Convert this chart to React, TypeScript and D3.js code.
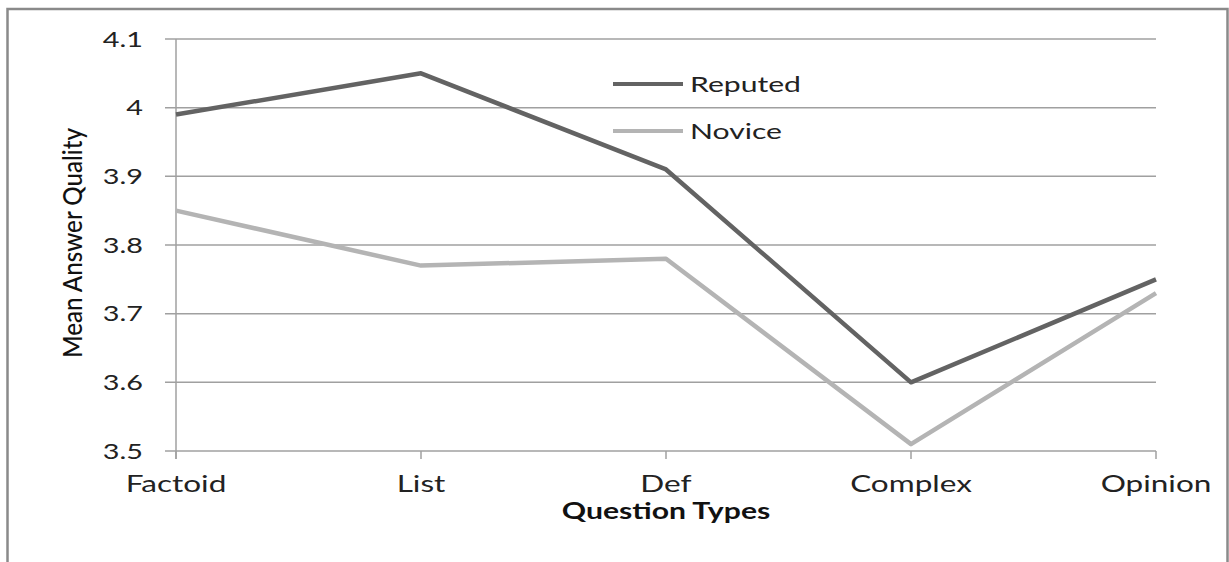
import React from 'react';
import * as d3 from 'd3';

const categories = ["Factoid", "List", "Def", "Complex", "Opinion"];
const reputed = [3.99, 4.05, 3.91, 3.60, 3.75];
const novice = [3.85, 3.77, 3.78, 3.51, 3.73];
const yTicks = [3.5, 3.6, 3.7, 3.8, 3.9, 4.0, 4.1];

const SERIES = [
    { name: "Reputed", values: reputed, color: "#636363" },
    { name: "Novice", values: novice, color: "#b4b4b4" }
];

const W = 1229;
const H = 562;
const SX = 1.37; // the picture is stretched sideways, so text is too
const FONT = "Lato, 'Open Sans', sans-serif";

const App: React.FC = () => {
    const plot = { left: 176, right: 1156, top: 39, bottom: 451 };

    const x = d3.scalePoint<string>()
        .domain(categories)
        .range([plot.left, plot.right]);

    const y = d3.scaleLinear()
        .domain([3.5, 4.1])
        .range([plot.bottom, plot.top]);

    const line = d3.line<number>()
        .x((_, i) => x(categories[i]) as number)
        .y(d => y(d));

    const label = (tx: number, ty: number) => `translate(${tx},${ty}) scale(${SX},1)`;

    return (
        <svg width={W} height={H} style={{ position: 'absolute', left: 0, top: 0, background: '#fff' }}>
            <rect x={7.5} y={9} width={1220} height={H + 10} fill="none" stroke="#8a8a8a" strokeWidth={2.5} />

            {/* grid + y ticks */}
            {yTicks.map(t => (
                <g key={t}>
                    <line x1={plot.left - 11} x2={plot.right} y1={y(t)} y2={y(t)} stroke="#a0a0a0" strokeWidth={1.5} />
                    <text
                        transform={label(143, y(t) + 7.5)}
                        textAnchor="end"
                        fontFamily={FONT}
                        fontSize={21}
                        fill="#222"
                    >{d3.format("")(t)}</text>
                </g>
            ))}

            {/* y axis line */}
            <line x1={plot.left} x2={plot.left} y1={plot.top} y2={plot.bottom + 8} stroke="#a0a0a0" strokeWidth={1.5} />

            {/* x ticks + labels */}
            {categories.map(c => (
                <g key={c}>
                    <line x1={x(c)} x2={x(c)} y1={plot.bottom} y2={plot.bottom + 8} stroke="#a0a0a0" strokeWidth={1.5} />
                    <text
                        transform={label(x(c) as number, 492)}
                        textAnchor="middle"
                        fontFamily={FONT}
                        fontSize={23}
                        fill="#222"
                    >{c}</text>
                </g>
            ))}

            {/* series */}
            {SERIES.map(s => (
                <path
                    key={s.name}
                    d={line(s.values) || ""}
                    fill="none"
                    stroke={s.color}
                    strokeWidth={4.5}
                    strokeLinejoin="round"
                />
            ))}

            {/* legend */}
            {SERIES.map((s, i) => (
                <g key={s.name} transform={`translate(613, ${84 + i * 47})`}>
                    <line x1={0} x2={70} y1={0} y2={0} stroke={s.color} strokeWidth={4} />
                    <text
                        transform={label(77, 7.5)}
                        fontFamily={FONT}
                        fontSize={22}
                        fill="#222"
                    >{s.name}</text>
                </g>
            ))}

            {/* axis titles */}
            <text
                transform={label((plot.left + plot.right) / 2, 519)}
                textAnchor="middle"
                fontFamily={FONT}
                fontSize={22}
                fontWeight="bold"
                fill="#111"
            >Question Types</text>

            <text
                transform={`translate(82, 243) scale(${SX},1) rotate(-90)`}
                textAnchor="middle"
                fontFamily={FONT}
                fontSize={20}
                fontWeight={500}
                textLength={230}
                lengthAdjust="spacingAndGlyphs"
                fill="#111"
            >Mean Answer Quality</text>
        </svg>
    );
};

export default App;
